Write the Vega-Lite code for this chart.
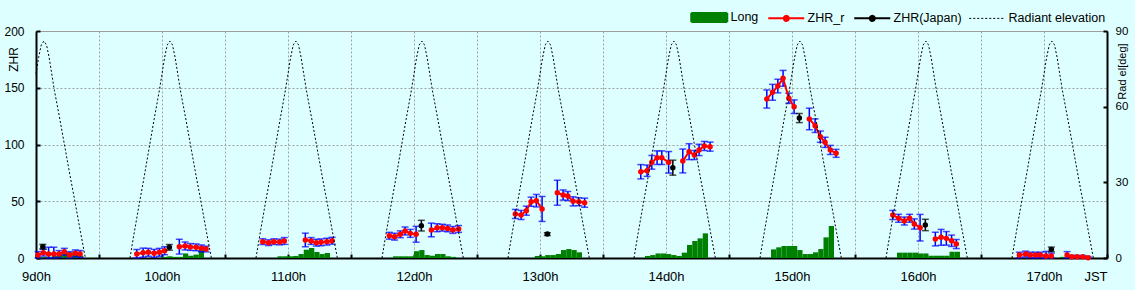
{
 "$schema": "https://vega.github.io/schema/vega-lite/v6.json",
 "width": 1071,
 "height": 227,
 "autosize": {"type": "none"},
 "padding": {"left": 36, "top": 31, "right": 28, "bottom": 32},
 "background": "#ddffff",
 "config": {
  "font": "Liberation Sans",
  "view": {"stroke": "#999999", "strokeWidth": 1},
  "axis": {"labelFont": "Liberation Sans", "titleFont": "Liberation Sans", "labelFontSize": 12, "titleFontSize": 12, "titleFontWeight": "normal", "labelColor": "#000000", "titleColor": "#000000", "domainColor": "#000000", "domainWidth": 2, "tickColor": "#000000", "tickWidth": 2, "tickSize": -4, "gridColor": "#a0a0a0", "gridDash": [2, 2], "gridWidth": 1},
  "axisBottom": {"labelPadding": 16, "labelFlush": false, "labelOverlap": false, "labelFontSize": 13, "titleFontSize": 13, "titleAnchor": "end", "titleAlign": "right", "titleX": 1071, "titleY": 12, "titleBaseline": "top"},
  "axisLeft": {"labelPadding": 16, "labelFontSize": 12, "titleAngle": 270, "titleX": -23, "titleY": 28, "titleAlign": "center", "titleBaseline": "middle"},
  "axisRight": {"labelPadding": 12, "labelFontSize": 11.5, "titleFontSize": 11, "titleAngle": 270, "titleX": 15, "titleY": 40, "titleAlign": "center", "titleBaseline": "middle"}
 },
 "datasets": {
  "z": [
   {"t":0.4,"v":2.6,"lo":0,"hi":5.6,"s":1},{"t":1.4,"v":4.7,"lo":1.7,"hi":7.7,"s":1},{"t":2.4,"v":3.5,"lo":0,"hi":9.5,"s":1},{"t":3.4,"v":3.5,"lo":0,"hi":9.5,"s":1},{"t":4.4,"v":3.5,"lo":0.5,"hi":6.5,"s":1},{"t":5.4,"v":5.5,"lo":2.5,"hi":8.5,"s":1},{"t":6.4,"v":2.6,"lo":0,"hi":5.6,"s":1},{"t":7.5,"v":4.1,"lo":1.1,"hi":7.1,"s":1},{"t":8.4,"v":3.5,"lo":0.5,"hi":6.5,"s":1},
   {"t":19.2,"v":3.5,"lo":0,"hi":7.5,"s":2},{"t":20.4,"v":4.7,"lo":0.7,"hi":8.7,"s":2},{"t":21.4,"v":5.0,"lo":1.5,"hi":8.5,"s":2},{"t":22.5,"v":4.1,"lo":0.6,"hi":7.6,"s":2},{"t":23.5,"v":5.0,"lo":1.5,"hi":8.5,"s":2},{"t":24.5,"v":6.4,"lo":2.9,"hi":9.9,"s":2},
   {"t":27.3,"v":10,"lo":3.5,"hi":16.5,"s":3},{"t":28.4,"v":10.6,"lo":7.1,"hi":14.1,"s":3},{"t":29.4,"v":9.7,"lo":6.7,"hi":12.7,"s":3},{"t":30.5,"v":9.4,"lo":6.4,"hi":12.4,"s":3},{"t":31.5,"v":8.5,"lo":5.5,"hi":11.5,"s":3},{"t":32.4,"v":7.9,"lo":5.4,"hi":10.4,"s":3},
   {"t":43.2,"v":14.4,"lo":11.9,"hi":16.9,"s":4},{"t":44.3,"v":13.5,"lo":11,"hi":16,"s":4},{"t":45.3,"v":14.4,"lo":11.9,"hi":16.9,"s":4},{"t":46.4,"v":14.1,"lo":11.6,"hi":16.6,"s":4},{"t":47.3,"v":15.0,"lo":12,"hi":18,"s":4},
   {"t":51.3,"v":15.9,"lo":9.9,"hi":21.9,"s":5},{"t":52.4,"v":15.0,"lo":12,"hi":18,"s":5},{"t":53.4,"v":13.5,"lo":10.5,"hi":16.5,"s":5},{"t":54.3,"v":13.8,"lo":10.8,"hi":16.8,"s":5},{"t":55.4,"v":14.4,"lo":11.4,"hi":17.4,"s":5},{"t":56.4,"v":15.2,"lo":12.2,"hi":18.2,"s":5},
   {"t":67.3,"v":19.6,"lo":16.6,"hi":22.6,"s":6},{"t":68.3,"v":18.8,"lo":15.8,"hi":21.8,"s":6},{"t":69.4,"v":20.9,"lo":17.9,"hi":23.9,"s":6},{"t":70.3,"v":23.8,"lo":20.3,"hi":27.3,"s":6},{"t":71.3,"v":21.7,"lo":18.2,"hi":25.2,"s":6},{"t":72.4,"v":20.9,"lo":13.9,"hi":27.9,"s":6},
   {"t":75.3,"v":24.7,"lo":18.7,"hi":30.7,"s":7},{"t":76.4,"v":26.7,"lo":23.2,"hi":30.2,"s":7},{"t":77.4,"v":26.7,"lo":23.7,"hi":29.7,"s":7},{"t":78.4,"v":26.1,"lo":23.1,"hi":29.1,"s":7},{"t":79.4,"v":24.7,"lo":21.7,"hi":27.7,"s":7},{"t":80.5,"v":25.6,"lo":22.6,"hi":28.6,"s":7},
   {"t":91.3,"v":38.8,"lo":34.8,"hi":42.8,"s":8},{"t":92.4,"v":37.9,"lo":33.9,"hi":41.9,"s":8},{"t":93.4,"v":41.7,"lo":37.7,"hi":45.7,"s":8},{"t":94.3,"v":49.6,"lo":45.6,"hi":53.6,"s":8},{"t":95.3,"v":50.5,"lo":45,"hi":56,"s":8},{"t":96.4,"v":43.2,"lo":32.2,"hi":54.2,"s":8},
   {"t":99.3,"v":57.5,"lo":46.5,"hi":68.5,"s":9},{"t":100.4,"v":55.5,"lo":51,"hi":60,"s":9},{"t":101.3,"v":54.6,"lo":50.6,"hi":58.6,"s":9},{"t":102.3,"v":49.9,"lo":45.9,"hi":53.9,"s":9},{"t":103.4,"v":49.6,"lo":46.1,"hi":53.1,"s":9},{"t":104.5,"v":48.7,"lo":44.7,"hi":52.7,"s":9},
   {"t":115.2,"v":76.0,"lo":69.7,"hi":82.3,"s":10},{"t":116.4,"v":76.9,"lo":71.9,"hi":81.9,"s":10},{"t":117.3,"v":84.3,"lo":78.3,"hi":90.3,"s":10},{"t":118.3,"v":88.4,"lo":82.4,"hi":94.4,"s":10},{"t":119.2,"v":88.4,"lo":82.4,"hi":94.4,"s":10},{"t":120.5,"v":84.3,"lo":74.8,"hi":93.8,"s":10},
   {"t":123.2,"v":85.5,"lo":75,"hi":96,"s":11},{"t":124.4,"v":93.7,"lo":86.7,"hi":100.7,"s":11},{"t":125.4,"v":90.7,"lo":86.7,"hi":94.7,"s":11},{"t":126.3,"v":95.2,"lo":90.2,"hi":100.2,"s":11},{"t":127.3,"v":98.7,"lo":94.7,"hi":102.7,"s":11},{"t":128.4,"v":98.1,"lo":94.1,"hi":102.1,"s":11},
   {"t":139.2,"v":140.1,"lo":132.1,"hi":148.1,"s":12},{"t":140.3,"v":146.0,"lo":139,"hi":153,"s":12},{"t":141.3,"v":151.5,"lo":145.5,"hi":157.5,"s":12},{"t":142.3,"v":158.3,"lo":151.3,"hi":165.3,"s":12},{"t":143.4,"v":140.7,"lo":136.2,"hi":145.2,"s":12},{"t":144.4,"v":133.3,"lo":127.3,"hi":139.3,"s":12},
   {"t":147.3,"v":122.5,"lo":113,"hi":132,"s":13},{"t":148.4,"v":116.6,"lo":110.6,"hi":122.6,"s":13},{"t":149.4,"v":106.9,"lo":101.9,"hi":111.9,"s":13},{"t":150.3,"v":101.9,"lo":97.4,"hi":106.4,"s":13},{"t":151.3,"v":95.2,"lo":91.2,"hi":99.2,"s":13},{"t":152.4,"v":92.2,"lo":88.7,"hi":95.7,"s":13},
   {"t":163.2,"v":37.9,"lo":33.9,"hi":41.9,"s":14},{"t":164.3,"v":35.0,"lo":31.5,"hi":38.5,"s":14},{"t":165.4,"v":32.6,"lo":29.1,"hi":36.1,"s":14},{"t":166.4,"v":35.0,"lo":31.5,"hi":38.5,"s":14},{"t":167.3,"v":30.0,"lo":25.5,"hi":34.5,"s":14},{"t":168.4,"v":26.7,"lo":15,"hi":38.4,"s":14},
   {"t":171.3,"v":16.7,"lo":10.7,"hi":22.7,"s":15},{"t":172.4,"v":18.2,"lo":11.2,"hi":25.2,"s":15},{"t":173.4,"v":17.3,"lo":11.3,"hi":23.3,"s":15},{"t":174.4,"v":15.2,"lo":10.2,"hi":20.2,"s":15},{"t":175.3,"v":12.3,"lo":8.3,"hi":16.3,"s":15},
   {"t":187.3,"v":2.6,"lo":0.1,"hi":5.1,"s":16},{"t":188.5,"v":3.5,"lo":1,"hi":6,"s":16},{"t":189.4,"v":2.6,"lo":0.1,"hi":5.1,"s":16},{"t":190.4,"v":2.6,"lo":0.1,"hi":5.1,"s":16},{"t":191.3,"v":2.6,"lo":0.1,"hi":5.1,"s":16},{"t":192.4,"v":1.8,"lo":0,"hi":5.8,"s":16},{"t":193.4,"v":1.8,"lo":0,"hi":4.3,"s":16},
   {"t":196.4,"v":2.6,"lo":0,"hi":5.6,"s":17},{"t":197.3,"v":1.2,"lo":0.2,"hi":2.2,"s":17},{"t":198.3,"v":1.2,"lo":0.2,"hi":2.2,"s":17},{"t":199.4,"v":1.2,"lo":0.2,"hi":2.2,"s":17},{"t":200.4,"v":0.3,"lo":0,"hi":1.3,"s":17}
  ],
  "j": [
   {"t":1.3,"v":10,"lo":8,"hi":12},{"t":25.4,"v":9.4,"lo":6.9,"hi":11.9},{"t":73.4,"v":28.5,"lo":23.8,"hi":33.2},{"t":97.4,"v":21.1,"lo":19.9,"hi":22.3},{"t":121.3,"v":79.6,"lo":73,"hi":86.2},{"t":145.4,"v":123.3,"lo":119.3,"hi":127.3},{"t":169.4,"v":29.1,"lo":24.1,"hi":34.1},{"t":193.4,"v":7.6,"lo":5.6,"hi":9.6}
  ],
  "l": [
   {"t":1,"t2":2,"v":1},{"t":2,"t2":3,"v":1},{"t":3,"t2":4,"v":2},{"t":4,"t2":5,"v":3},{"t":5,"t2":6,"v":5},{"t":6,"t2":7,"v":5},{"t":7,"t2":8,"v":3},{"t":8,"t2":9,"v":2},
   {"t":24,"t2":25,"v":1},{"t":25,"t2":26,"v":1.5},{"t":26,"t2":27,"v":1},{"t":27,"t2":28,"v":1},{"t":28,"t2":29,"v":4},{"t":29,"t2":30,"v":2},{"t":30,"t2":31,"v":3},{"t":31,"t2":32,"v":7},
   {"t":46,"t2":47,"v":1.5},{"t":47,"t2":48,"v":1.5},{"t":48,"t2":49,"v":1.5},{"t":49,"t2":50,"v":1.8},{"t":50,"t2":51,"v":3.5},{"t":51,"t2":52,"v":7.3},{"t":52,"t2":53,"v":8.8},{"t":53,"t2":54,"v":5.3},{"t":54,"t2":55,"v":3.5},{"t":55,"t2":56,"v":4.4},
   {"t":68,"t2":69,"v":1.5},{"t":69,"t2":70,"v":1.5},{"t":70,"t2":71,"v":1.5},{"t":71,"t2":72,"v":1.5},{"t":72,"t2":73,"v":6},{"t":73,"t2":74,"v":7},{"t":74,"t2":75,"v":2.6},{"t":75,"t2":76,"v":2},{"t":76,"t2":77,"v":3.5},{"t":77,"t2":78,"v":3.5},{"t":78,"t2":79,"v":1.5},{"t":79,"t2":80,"v":1},
   {"t":95,"t2":96,"v":1.8},{"t":96,"t2":97,"v":1.5},{"t":97,"t2":98,"v":2.6},{"t":98,"t2":99,"v":2.6},{"t":99,"t2":100,"v":3.5},{"t":100,"t2":101,"v":7},{"t":101,"t2":102,"v":7.9},{"t":102,"t2":103,"v":7},{"t":103,"t2":104,"v":5},
   {"t":116,"t2":117,"v":1.8},{"t":117,"t2":118,"v":2.6},{"t":118,"t2":119,"v":4},{"t":119,"t2":120,"v":4},{"t":120,"t2":121,"v":3.5},{"t":121,"t2":122,"v":2.6},{"t":122,"t2":123,"v":1.8},{"t":123,"t2":124,"v":4.7},{"t":124,"t2":125,"v":11.5},{"t":125,"t2":126,"v":15},{"t":126,"t2":127,"v":17.3},{"t":127,"t2":128,"v":21.7},
   {"t":140,"t2":141,"v":7.6},{"t":141,"t2":142,"v":9.4},{"t":142,"t2":143,"v":10.6},{"t":143,"t2":144,"v":10.6},{"t":144,"t2":145,"v":10.6},{"t":145,"t2":146,"v":7},{"t":146,"t2":147,"v":3.5},{"t":147,"t2":148,"v":3.5},{"t":148,"t2":149,"v":5},{"t":149,"t2":150,"v":7.9},{"t":150,"t2":151,"v":18.2},{"t":151,"t2":152,"v":28.2},
   {"t":164,"t2":165,"v":4.7},{"t":165,"t2":166,"v":4.7},{"t":166,"t2":167,"v":4.7},{"t":167,"t2":168,"v":4.7},{"t":168,"t2":169,"v":4},{"t":169,"t2":170,"v":4},{"t":170,"t2":171,"v":2},{"t":171,"t2":172,"v":2},{"t":172,"t2":173,"v":2},{"t":173,"t2":174,"v":2},{"t":174,"t2":175,"v":5.5},{"t":175,"t2":176,"v":5.5},
   {"t":195,"t2":196,"v":1},{"t":198,"t2":199,"v":2}
  ],
  "r": [
   {"t":0,"e":73,"n":0},{"t":0.5,"e":79.5,"n":0},{"t":1,"e":84.5,"n":0},{"t":1.5,"e":86,"n":0},{"t":2,"e":84.5,"n":0},{"t":2.5,"e":79.5,"n":0},{"t":3,"e":73,"n":0},{"t":3.5,"e":66.5,"n":0},{"t":4.5,"e":55.5,"n":0},{"t":5.5,"e":44,"n":0},{"t":6.5,"e":32.5,"n":0},{"t":7.5,"e":21.5,"n":0},{"t":8.5,"e":10,"n":0},{"t":9.4,"e":0,"n":0},
   {"t":17.9,"e":0,"n":1},{"t":18.5,"e":7.5,"n":1},{"t":19.5,"e":19.5,"n":1},{"t":20.5,"e":31,"n":1},{"t":21.5,"e":43,"n":1},{"t":22.5,"e":55,"n":1},{"t":23.5,"e":66.5,"n":1},{"t":24,"e":73,"n":1},{"t":24.5,"e":79.5,"n":1},{"t":25,"e":84.5,"n":1},{"t":25.5,"e":86,"n":1},{"t":26,"e":84.5,"n":1},{"t":26.5,"e":79.5,"n":1},{"t":27,"e":73,"n":1},{"t":27.5,"e":66.5,"n":1},{"t":28.5,"e":55.5,"n":1},{"t":29.5,"e":44,"n":1},{"t":30.5,"e":32.5,"n":1},{"t":31.5,"e":21.5,"n":1},{"t":32.5,"e":10,"n":1},{"t":33.4,"e":0,"n":1},
   {"t":41.9,"e":0,"n":2},{"t":42.5,"e":7.5,"n":2},{"t":43.5,"e":19.5,"n":2},{"t":44.5,"e":31,"n":2},{"t":45.5,"e":43,"n":2},{"t":46.5,"e":55,"n":2},{"t":47.5,"e":66.5,"n":2},{"t":48,"e":73,"n":2},{"t":48.5,"e":79.5,"n":2},{"t":49,"e":84.5,"n":2},{"t":49.5,"e":86,"n":2},{"t":50,"e":84.5,"n":2},{"t":50.5,"e":79.5,"n":2},{"t":51,"e":73,"n":2},{"t":51.5,"e":66.5,"n":2},{"t":52.5,"e":55.5,"n":2},{"t":53.5,"e":44,"n":2},{"t":54.5,"e":32.5,"n":2},{"t":55.5,"e":21.5,"n":2},{"t":56.5,"e":10,"n":2},{"t":57.4,"e":0,"n":2},
   {"t":65.9,"e":0,"n":3},{"t":66.5,"e":7.5,"n":3},{"t":67.5,"e":19.5,"n":3},{"t":68.5,"e":31,"n":3},{"t":69.5,"e":43,"n":3},{"t":70.5,"e":55,"n":3},{"t":71.5,"e":66.5,"n":3},{"t":72,"e":73,"n":3},{"t":72.5,"e":79.5,"n":3},{"t":73,"e":84.5,"n":3},{"t":73.5,"e":86,"n":3},{"t":74,"e":84.5,"n":3},{"t":74.5,"e":79.5,"n":3},{"t":75,"e":73,"n":3},{"t":75.5,"e":66.5,"n":3},{"t":76.5,"e":55.5,"n":3},{"t":77.5,"e":44,"n":3},{"t":78.5,"e":32.5,"n":3},{"t":79.5,"e":21.5,"n":3},{"t":80.5,"e":10,"n":3},{"t":81.4,"e":0,"n":3},
   {"t":89.9,"e":0,"n":4},{"t":90.5,"e":7.5,"n":4},{"t":91.5,"e":19.5,"n":4},{"t":92.5,"e":31,"n":4},{"t":93.5,"e":43,"n":4},{"t":94.5,"e":55,"n":4},{"t":95.5,"e":66.5,"n":4},{"t":96,"e":73,"n":4},{"t":96.5,"e":79.5,"n":4},{"t":97,"e":84.5,"n":4},{"t":97.5,"e":86,"n":4},{"t":98,"e":84.5,"n":4},{"t":98.5,"e":79.5,"n":4},{"t":99,"e":73,"n":4},{"t":99.5,"e":66.5,"n":4},{"t":100.5,"e":55.5,"n":4},{"t":101.5,"e":44,"n":4},{"t":102.5,"e":32.5,"n":4},{"t":103.5,"e":21.5,"n":4},{"t":104.5,"e":10,"n":4},{"t":105.4,"e":0,"n":4},
   {"t":113.9,"e":0,"n":5},{"t":114.5,"e":7.5,"n":5},{"t":115.5,"e":19.5,"n":5},{"t":116.5,"e":31,"n":5},{"t":117.5,"e":43,"n":5},{"t":118.5,"e":55,"n":5},{"t":119.5,"e":66.5,"n":5},{"t":120,"e":73,"n":5},{"t":120.5,"e":79.5,"n":5},{"t":121,"e":84.5,"n":5},{"t":121.5,"e":86,"n":5},{"t":122,"e":84.5,"n":5},{"t":122.5,"e":79.5,"n":5},{"t":123,"e":73,"n":5},{"t":123.5,"e":66.5,"n":5},{"t":124.5,"e":55.5,"n":5},{"t":125.5,"e":44,"n":5},{"t":126.5,"e":32.5,"n":5},{"t":127.5,"e":21.5,"n":5},{"t":128.5,"e":10,"n":5},{"t":129.4,"e":0,"n":5},
   {"t":137.9,"e":0,"n":6},{"t":138.5,"e":7.5,"n":6},{"t":139.5,"e":19.5,"n":6},{"t":140.5,"e":31,"n":6},{"t":141.5,"e":43,"n":6},{"t":142.5,"e":55,"n":6},{"t":143.5,"e":66.5,"n":6},{"t":144,"e":73,"n":6},{"t":144.5,"e":79.5,"n":6},{"t":145,"e":84.5,"n":6},{"t":145.5,"e":86,"n":6},{"t":146,"e":84.5,"n":6},{"t":146.5,"e":79.5,"n":6},{"t":147,"e":73,"n":6},{"t":147.5,"e":66.5,"n":6},{"t":148.5,"e":55.5,"n":6},{"t":149.5,"e":44,"n":6},{"t":150.5,"e":32.5,"n":6},{"t":151.5,"e":21.5,"n":6},{"t":152.5,"e":10,"n":6},{"t":153.4,"e":0,"n":6},
   {"t":161.9,"e":0,"n":7},{"t":162.5,"e":7.5,"n":7},{"t":163.5,"e":19.5,"n":7},{"t":164.5,"e":31,"n":7},{"t":165.5,"e":43,"n":7},{"t":166.5,"e":55,"n":7},{"t":167.5,"e":66.5,"n":7},{"t":168,"e":73,"n":7},{"t":168.5,"e":79.5,"n":7},{"t":169,"e":84.5,"n":7},{"t":169.5,"e":86,"n":7},{"t":170,"e":84.5,"n":7},{"t":170.5,"e":79.5,"n":7},{"t":171,"e":73,"n":7},{"t":171.5,"e":66.5,"n":7},{"t":172.5,"e":55.5,"n":7},{"t":173.5,"e":44,"n":7},{"t":174.5,"e":32.5,"n":7},{"t":175.5,"e":21.5,"n":7},{"t":176.5,"e":10,"n":7},{"t":177.4,"e":0,"n":7},
   {"t":185.9,"e":0,"n":8},{"t":186.5,"e":7.5,"n":8},{"t":187.5,"e":19.5,"n":8},{"t":188.5,"e":31,"n":8},{"t":189.5,"e":43,"n":8},{"t":190.5,"e":55,"n":8},{"t":191.5,"e":66.5,"n":8},{"t":192,"e":73,"n":8},{"t":192.5,"e":79.5,"n":8},{"t":193,"e":84.5,"n":8},{"t":193.5,"e":86,"n":8},{"t":194,"e":84.5,"n":8},{"t":194.5,"e":79.5,"n":8},{"t":195,"e":73,"n":8},{"t":195.5,"e":66.5,"n":8},{"t":196.5,"e":55.5,"n":8},{"t":197.5,"e":44,"n":8},{"t":198.5,"e":32.5,"n":8},{"t":199.5,"e":21.5,"n":8},{"t":200.5,"e":10,"n":8},{"t":201.4,"e":0,"n":8}
  ]
 },
 "encoding": {
  "x": {"field": "t", "type": "quantitative", "title": "JST",
   "scale": {"domain": [0, 204], "nice": false, "zero": false},
   "axis": {"values": [0,12,24,36,48,60,72,84,96,108,120,132,144,156,168,180,192,204], "labelExpr": "datum.value % 24 == 0 ? (9 + datum.value / 24) + 'd0h' : ''", "grid": true}}
 },
 "layer": [
  {
   "layer": [
    {
     "data": {"name": "l"},
     "mark": {"type": "rect"},
     "encoding": {
      "x2": {"field": "t2"},
      "y": {"field": "v", "type": "quantitative", "title": "ZHR", "scale": {"domain": [0, 200], "nice": false}, "axis": {"orient": "left", "values": [0, 50, 100, 150, 200], "grid": true}},
      "y2": {"datum": 0},
      "color": {"datum": "Long",
       "scale": {"domain": ["Long", "ZHR_r", "ZHR(Japan)", "Radiant elevation"], "range": ["#008000", "#ff0000", "#000000", "#000000"]},
       "legend": {"orient": "none", "legendX": 667, "legendY": -20, "direction": "horizontal", "title": null, "padding": 0,
        "symbolSize": 1296, "labelFontSize": 12.5, "labelFont": "Liberation Sans", "labelColor": "#000000", "labelOffset": 15, "columnPadding": 5,
        "encode": {"symbols": {"update": {
         "shape": {"signal": "datum.value === 'Long' ? 'M-1,-0.25H1V0.25H-1Z' : (datum.value === 'Radiant elevation' ? 'M-1,0H1' : 'M-1,0H1M-0.14,0A0.14,0.14 0 1,0 0.14,0A0.14,0.14 0 1,0 -0.14,0')"},
         "fill": {"signal": "datum.value === 'Long' ? '#008000' : (datum.value === 'ZHR_r' ? '#ff0000' : (datum.value === 'ZHR(Japan)' ? '#000000' : 'transparent'))"},
         "stroke": {"signal": "datum.value === 'Long' ? 'transparent' : (datum.value === 'ZHR_r' ? '#ff0000' : '#000000')"},
         "strokeWidth": {"signal": "datum.value === 'Radiant elevation' ? 1 : 2"},
         "strokeDash": {"signal": "datum.value === 'Radiant elevation' ? [2, 2] : [1, 0]"},
         "size": {"value": 1296},
         "opacity": {"value": 1}
        }}}
       }
      }
     }
    },
    {
     "data": {"name": "z"},
     "mark": {"type": "errorbar", "ticks": {"size": 7, "thickness": 1.5, "color": "#0000ff"}, "rule": {"strokeWidth": 1.5, "color": "#0000ff"}},
     "encoding": {
      "y": {"field": "lo", "type": "quantitative", "title": "ZHR"},
      "y2": {"field": "hi"}
     }
    },
    {
     "data": {"name": "z"},
     "mark": {"type": "line", "strokeWidth": 2},
     "encoding": {
      "y": {"field": "v", "type": "quantitative", "title": "ZHR"},
      "color": {"datum": "ZHR_r"},
      "detail": {"field": "s", "type": "nominal"}
     }
    },
    {
     "data": {"name": "z"},
     "mark": {"type": "point", "filled": true, "size": 30, "opacity": 1},
     "encoding": {
      "y": {"field": "v", "type": "quantitative", "title": "ZHR"},
      "color": {"datum": "ZHR_r"}
     }
    },
    {
     "data": {"name": "j"},
     "mark": {"type": "errorbar", "ticks": {"size": 7, "thickness": 1.5, "color": "#000000"}, "rule": {"strokeWidth": 1.5, "color": "#000000"}},
     "encoding": {
      "y": {"field": "lo", "type": "quantitative", "title": "ZHR"},
      "y2": {"field": "hi"}
     }
    },
    {
     "data": {"name": "j"},
     "mark": {"type": "point", "filled": true, "size": 30, "opacity": 1},
     "encoding": {
      "y": {"field": "v", "type": "quantitative", "title": "ZHR"},
      "color": {"datum": "ZHR(Japan)"}
     }
    }
   ]
  },
  {
   "data": {"name": "r"},
   "mark": {"type": "line", "strokeWidth": 1, "strokeDash": [2, 2]},
   "encoding": {
    "y": {"field": "e", "type": "quantitative", "title": "Rad el[deg]", "scale": {"domain": [0, 90], "nice": false}, "axis": {"orient": "right", "values": [0, 30, 60, 90], "grid": false}},
    "color": {"datum": "Radiant elevation"},
    "detail": {"field": "n", "type": "nominal"}
   }
  }
 ],
 "resolve": {"scale": {"y": "independent"}}
}
